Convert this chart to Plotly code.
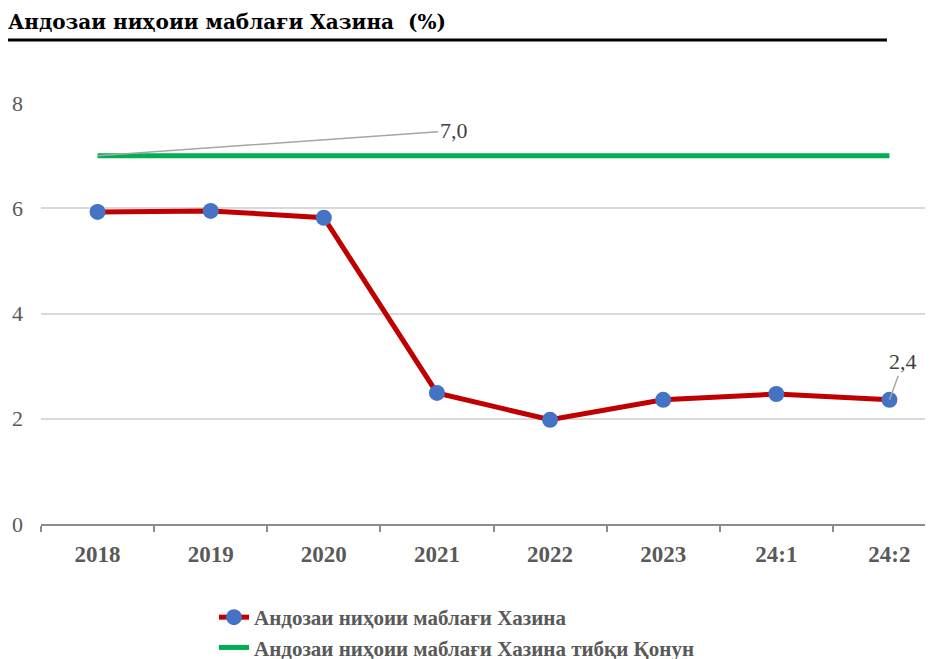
import plotly.graph_objects as go

categories = ["2018", "2019", "2020", "2021", "2022", "2023", "24:1", "24:2"]
actual = [5.93, 5.95, 5.82, 2.49, 1.98, 2.36, 2.47, 2.36]
law = [7.0, 7.0, 7.0, 7.0, 7.0, 7.0, 7.0, 7.0]
y_ticks = [0, 2, 4, 6, 8]
name_actual = "Андозаи ниҳоии маблағи Хазина"
name_law = "Андозаи ниҳоии маблағи Хазина тибқи Қонун"
title_text = "Андозаи ниҳоии маблағи Хазина  (%)"

# page body adds an 8px offset; layout numbers below are in screen pixels
OFF = 8
W, H = 933, 659
L, R = 41 - OFF, 8
T = 103 - OFF
B = H - (524 - OFF)
pw = W - L - R
ph = H - T - B

serif = "Liberation Serif"

fig = go.Figure()
fig.add_trace(go.Scatter(
    x=categories, y=actual, name=name_actual, mode="lines+markers",
    line=dict(color="#C00000", width=5),
    marker=dict(color="#4472C4", size=16),
))
fig.add_trace(go.Scatter(
    x=categories, y=law, name=name_law, mode="lines",
    line=dict(color="#00B050", width=5),
))

# data labels with leader lines (x given as category index)
fig.add_annotation(x=0, y=law[0], text="7,0", showarrow=True, arrowhead=0,
                   arrowcolor="#A6A6A6", arrowwidth=1.5, ax=356, ay=-25,
                   font=dict(family=serif, size=22, color="#404040"))
fig.add_annotation(x=7, y=actual[7], text="2,4", showarrow=True, arrowhead=0,
                   arrowcolor="#A6A6A6", arrowwidth=1.5, ax=14, ay=-38,
                   font=dict(family=serif, size=22, color="#404040"))


def px_x(p):
    return (p - OFF - L) / pw


def px_y(p):
    return (H - B - (p - OFF)) / ph


# title underline
fig.add_shape(type="line", xref="paper", yref="paper",
              x0=px_x(8), x1=px_x(887), y0=px_y(40), y1=px_y(40),
              line=dict(color="black", width=3))

fig.update_layout(
    width=W, height=H,
    margin=dict(l=L, r=R, t=T, b=B, autoexpand=False),
    paper_bgcolor="white", plot_bgcolor="white",
    title=dict(text="<b>" + title_text + "</b>", x=0, xanchor="left",
               y=1 - (22 - OFF) / H, yanchor="middle", yref="container",
               font=dict(family="DejaVu Serif", size=20, color="black")),
    showlegend=True,
    legend=dict(orientation="v", x=px_x(214), xanchor="left", y=px_y(597), yanchor="top",
                font=dict(family=serif, size=21, color="#595959", weight="bold"),
                tracegroupgap=0, itemwidth=30, bgcolor="rgba(0,0,0,0)"),
    xaxis=dict(
        type="category", categoryorder="array", categoryarray=categories,
        tickvals=categories, ticktext=["<b>" + c + "</b>" for c in categories],
        range=[-0.5, 7.385], showgrid=False, zeroline=False,
        showline=True, linecolor="#8C8C8C", linewidth=1.5,
        ticks="outside", ticklen=6, tickcolor="#8C8C8C", tickwidth=1.5,
        tickson="boundaries", automargin=False, ticklabelstandoff=9,
        tickfont=dict(family=serif, size=23, color="#595959"),
    ),
    yaxis=dict(
        tickmode="array", tickvals=y_ticks, range=[0, 8],
        showgrid=True, gridcolor="#D9D9D9", gridwidth=1.5,
        zeroline=False, showline=False, automargin=False,
        tickfont=dict(family=serif, size=22, color="#595959"),
        ticklabelstandoff=17,
    ),
)

fig.write_html("out.html")
